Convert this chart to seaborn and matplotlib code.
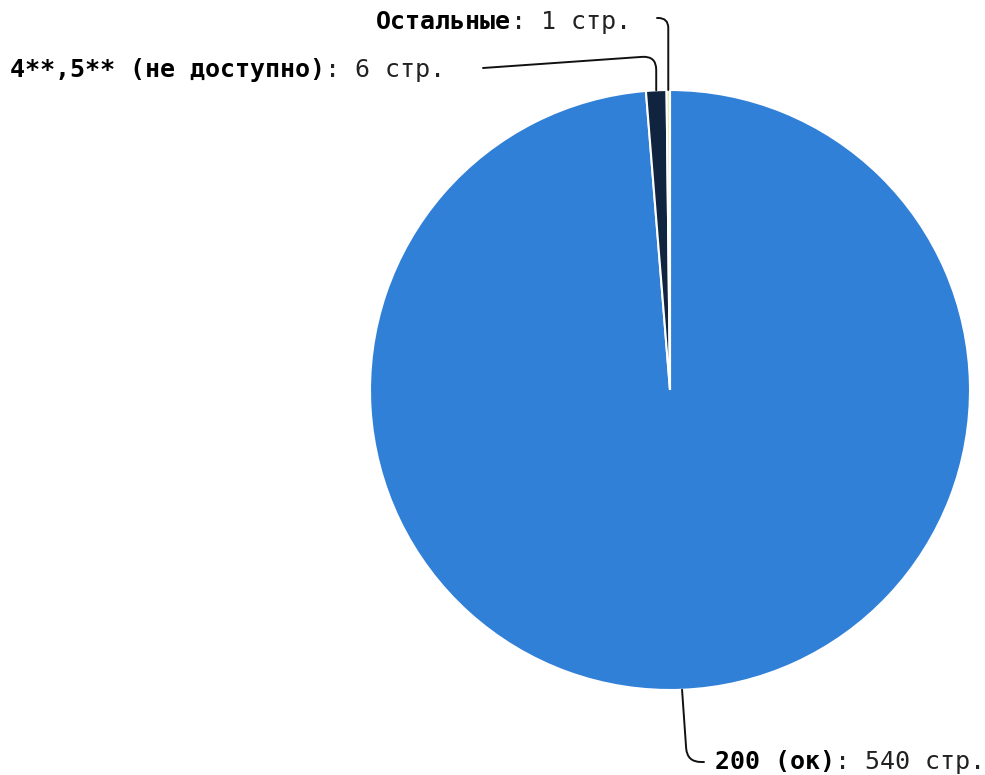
import numpy as np
import matplotlib
matplotlib.use("Agg")
import matplotlib.pyplot as plt
import seaborn as sns

# data
names = ["200 (ок)", "4**,5** (не доступно)", "Остальные"]
pages = [540, 6, 1]
colors = ["#3080d8", "#10233f", "#e4edb4"]

sns.set_theme(style="white")
plt.rcParams['font.family'] = ['DejaVu Sans Mono', 'DejaVu Sans']

fig = plt.figure(figsize=(9.85, 7.75), dpi=100)
ax = fig.add_axes([0, 0, 1, 1])

cx, cy, R = 670, 385, 300
wedges, _ = ax.pie(pages, colors=sns.color_palette(colors), startangle=90,
                   counterclock=False, center=(cx, cy), radius=R,
                   wedgeprops=dict(edgecolor="white", linewidth=1.5))
ax.set_xlim(0, 985)
ax.set_ylim(0, 775)
ax.set_aspect("auto")
ax.axis("off")

def edge_point(w):
    a = np.deg2rad((w.theta1 + w.theta2) / 2)
    return cx + R * np.cos(a), cy + R * np.sin(a)

# label text positions (left edge, center y), leader start, connection style
label_pos = [(715, 13), (10, 705), (376, 753)]
line_start = [(704, 13), (483, 707), (657, 757)]
conn = ["angle,angleA=0,angleB=94,rad=14",
        "angle,angleA=4,angleB=90,rad=14",
        "angle,angleA=0,angleB=90,rad=10"]

for i, w in enumerate(wedges):
    x, y = label_pos[i]
    t = ax.text(x, y, names[i], fontsize=18, fontweight="bold",
                ha="left", va="center", color="black")
    ax.annotate(": %d стр." % pages[i], xy=(1, 0.5), xycoords=t,
                fontsize=18, ha="left", va="center", color="#222222")
    ax.annotate("", xy=edge_point(w), xytext=line_start[i],
                arrowprops=dict(arrowstyle="-", color="#111111", lw=1.4,
                                shrinkA=0, shrinkB=0,
                                connectionstyle=conn[i]))

fig.savefig("out.png", dpi=100)
